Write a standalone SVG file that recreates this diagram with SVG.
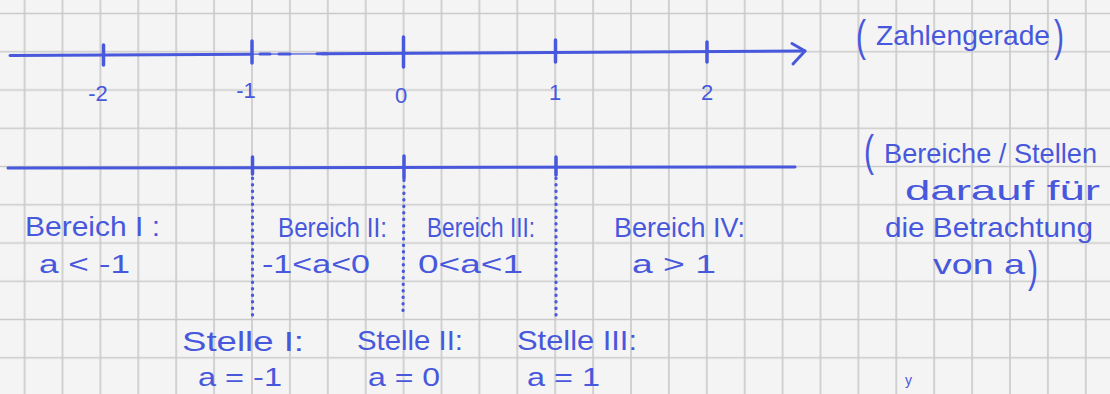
<svg xmlns="http://www.w3.org/2000/svg" width="1110" height="394" viewBox="0 0 1110 394">
  <defs>
    <pattern id="grid" patternUnits="userSpaceOnUse" x="5.65" y="-5.6" width="37.9" height="38.25">
      <path d="M18.95 0 V38.25 M0 19.125 H37.9" stroke="#c9c9c9" stroke-width="1.6" fill="none"/>
    </pattern>
    <style>
      .ink { stroke: #4858dc; fill: none; stroke-linecap: round; stroke-linejoin: round; }
      .line { stroke-width: 3; }
      .tick { stroke-width: 3.5; }
      .dots { stroke-width: 3.2; stroke-dasharray: 0.5 6; }
      .t { font-family: "Liberation Sans", "DejaVu Sans", sans-serif; fill: #4858dc; }
      .lbl { font-size: 28px; }
      .math { font-size: 26px; }
      .num { font-size: 22px; text-anchor: middle; }
      .note { font-size: 28px; }
      .par { font-size: 30px; }
    </style>
  </defs>

  <rect width="1110" height="394" fill="#f4f4f4"/>
  <rect width="1110" height="394" fill="url(#grid)"/>

  <g id="zahlengerade">
    <path class="ink line" d="M10 55.5 L252 54.2"/>
    <path class="ink" stroke-width="1.3" d="M252 54.2 L322 53.8"/>
    <path class="ink line" d="M260 54 L270 54 M279 54 L290 54 M317 53.8 L327 53.8"/>
    <path class="ink line" d="M322 53.8 L805 51"/>
    <path class="ink line" d="M792 43.5 L805 51 L793 64"/>
    <path class="ink tick" d="M103.5 45 L103.5 65 M252 41 L252 63 M403.5 37 L403.5 67 M555.5 40 L555.5 62 M707 42 L707 62"/>
    <text class="t num" x="98" y="101">-2</text>
    <text class="t num" x="246" y="98">-1</text>
    <text class="t num" x="401" y="103">0</text>
    <text class="t num" x="555" y="100">1</text>
    <text class="t num" x="707" y="100">2</text>
  </g>

  <g id="zahlengerade-label">
    <text class="t par" transform="translate(856 51) scale(1 1.5)">(</text>
    <text class="t note" x="876" y="45" textLength="174" lengthAdjust="spacingAndGlyphs">Zahlengerade</text>
    <text class="t par" transform="translate(1054 51) scale(1 1.5)">)</text>
  </g>

  <g id="bereichsgerade">
    <path class="ink line" d="M8 168 L795 167"/>
    <path class="ink tick" d="M252.5 157 L252.5 174 M404 156 L404 178 M556 157 L556 175"/>
  </g>

  <g id="connectors">
    <path class="ink dots" d="M252.5 178 L252.5 315"/>
    <path class="ink dots" d="M404 180 L403 313"/>
    <path class="ink dots" d="M556 178 L556 315"/>
  </g>

  <g id="bereich-1">
    <text class="t lbl" x="25" y="236" textLength="135" lengthAdjust="spacingAndGlyphs">Bereich I :</text>
    <text class="t math" x="39" y="273" textLength="91" lengthAdjust="spacingAndGlyphs">a &lt; -1</text>
  </g>
  <g id="bereich-2">
    <text class="t lbl" x="278" y="237" textLength="109" lengthAdjust="spacingAndGlyphs">Bereich II:</text>
    <text class="t math" x="262" y="273" textLength="108" lengthAdjust="spacingAndGlyphs">-1&lt;a&lt;0</text>
  </g>
  <g id="bereich-3">
    <text class="t lbl" x="427" y="237" textLength="108" lengthAdjust="spacingAndGlyphs">Bereich III:</text>
    <text class="t math" x="418" y="273" textLength="105" lengthAdjust="spacingAndGlyphs">0&lt;a&lt;1</text>
  </g>
  <g id="bereich-4">
    <text class="t lbl" x="614" y="237" textLength="131" lengthAdjust="spacingAndGlyphs">Bereich IV:</text>
    <text class="t math" x="632" y="273" textLength="84" lengthAdjust="spacingAndGlyphs">a &gt; 1</text>
  </g>

  <g id="stelle-1">
    <text class="t lbl" x="182" y="351" textLength="122" lengthAdjust="spacingAndGlyphs">Stelle I:</text>
    <text class="t math" x="198" y="386" textLength="84" lengthAdjust="spacingAndGlyphs">a = -1</text>
  </g>
  <g id="stelle-2">
    <text class="t lbl" x="357" y="350" textLength="106" lengthAdjust="spacingAndGlyphs">Stelle II:</text>
    <text class="t math" x="368" y="386" textLength="72" lengthAdjust="spacingAndGlyphs">a = 0</text>
  </g>
  <g id="stelle-3">
    <text class="t lbl" x="517" y="350" textLength="120" lengthAdjust="spacingAndGlyphs">Stelle III:</text>
    <text class="t math" x="527" y="386" textLength="73" lengthAdjust="spacingAndGlyphs">a = 1</text>
  </g>

  <g id="bereiche-note">
    <text class="t par" transform="translate(864 166) scale(1 1.5)">(</text>
    <text class="t note" x="884" y="163" textLength="213" lengthAdjust="spacingAndGlyphs">Bereiche / Stellen</text>
    <text class="t note" x="905" y="200" textLength="195" lengthAdjust="spacingAndGlyphs">darauf für</text>
    <text class="t note" x="885" y="237" textLength="208" lengthAdjust="spacingAndGlyphs">die Betrachtung</text>
    <text class="t note" x="933" y="274" textLength="92" lengthAdjust="spacingAndGlyphs">von a</text>
    <text class="t par" transform="translate(1028 282) scale(1 1.5)">)</text>
  </g>

  <g id="mark">
    <text class="t" font-size="14" x="905" y="385">y</text>
  </g>
</svg>
